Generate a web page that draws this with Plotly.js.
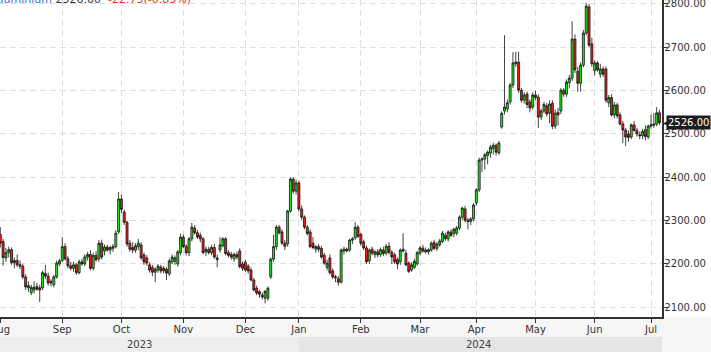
<!DOCTYPE html>
<html><head><meta charset="utf-8">
<script src="https://cdn.plot.ly/plotly-3.0.1.min.js"></script>
<style>html,body{margin:0;padding:0;background:#fff}#chart{width:711px;height:352px}</style>
</head><body><div id="chart"></div>
<script>
// Aluminium daily OHLC, trading days from 1 Aug 2023 to 3 Jul 2024
const opens = [
 2268,2252,2214,2226,2233,2203,2208,2198,2195,2170,2145,2134,2140,2148,2145,2145,2178,2172,2156,2152,2170,2200,
 2208,2240,2212,2196,2190,2198,2180,2205,2200,2216,2222,2190,2220,2212,2248,2230,2239,2232,2236,2240,2274,
 2350,2320,2296,2248,2238,2232,2240,2244,2221,2214,2198,2192,2181,2186,2193,2184,2188,2177,2205,2206,2200,2226,
 2262,2240,2226,2258,2283,2272,2266,2258,2228,2234,2226,2238,2210,2232,2242,2258,2226,2222,2212,2222,2230,2200,
 2204,2195,2186,2163,2144,2136,2128,2121,2121,2170,2211,2240,2285,2274,2248,2246,2322,2396,2368,
 2387,2327,2308,2285,2274,2248,2234,2240,2236,2220,2192,2214,2184,2168,2166,2158,2230,2234,2232,2255,2260,2285,
 2268,2251,2237,2207,2234,2222,2228,2222,2232,2225,2241,2227,2221,2210,2205,2234,2225,2202,2186,2192,2200,
 2225,2237,2232,2228,2232,2250,2236,2244,2252,2266,2258,2274,2270,2271,2283,2308,2327,2301,2298,2304,
 2341,2371,2440,2442,2450,2456,2466,2474,2456,2516,2553,2558,2574,2613,2662,2666,2601,2578,2592,2574,2562,
 2590,2585,2539,2553,2565,2548,2571,2518,2550,2553,2601,2592,2618,2629,2719,2645,2617,2659,2733,2793,2708,
 2646,2664,2638,2650,2650,2572,2584,2544,2567,2544,2523,2509,2500,2493,2521,2508,2498,2496,2510,2493,
 2518,2520,2523,2549
];
const highs = [
 2285,2258,2237,2240,2238,2215,2222,2208,2200,2176,2160,2152,2160,2156,2152,2185,2198,2180,2165,2175,2208,2212,
 2262,2248,2218,2205,2205,2202,2210,2212,2222,2228,2232,2226,2230,2255,2256,2245,2244,2242,2246,2278,2366,
 2360,2325,2300,2255,2250,2248,2258,2250,2226,2220,2204,2198,2192,2200,2198,2195,2192,2212,2222,2220,2232,2270,
 2268,2246,2262,2295,2290,2278,2272,2262,2240,2240,2244,2246,2222,2262,2262,2262,2232,2228,2226,2228,2236,2206,
 2210,2200,2192,2168,2150,2140,2134,2140,2148,2215,2267,2290,2290,2280,2255,2325,2400,2400,2395,
 2392,2335,2312,2290,2280,2262,2244,2246,2242,2226,2210,2222,2190,2175,2172,2236,2240,2238,2258,2262,2296,2290,
 2272,2256,2242,2236,2240,2232,2234,2238,2240,2246,2250,2232,2226,2215,2236,2271,2232,2206,2204,2212,2230,
 2242,2244,2238,2236,2252,2256,2250,2258,2276,2272,2278,2280,2284,2288,2312,2332,2334,2306,2308,2340,
 2375,2445,2446,2456,2462,2475,2480,2478,2484,2552,2728,2580,2618,2689,2690,2690,2606,2596,2598,2580,2596,
 2600,2592,2558,2574,2572,2578,2578,2556,2560,2606,2606,2626,2636,2760,2730,2655,2665,2740,2802,2800,2722,
 2670,2668,2662,2656,2656,2590,2592,2574,2572,2550,2530,2514,2508,2524,2530,2514,2506,2512,2520,2522,
 2545,2548,2562,2556
];
const lows = [
 2238,2196,2205,2215,2198,2190,2193,2188,2165,2140,2136,2128,2132,2138,2112,2140,2165,2150,2148,2146,2166,2195,
 2205,2208,2190,2185,2182,2175,2176,2196,2195,2208,2185,2185,2205,2205,2210,2220,2228,2222,2228,2236,2270,
 2318,2290,2240,2228,2225,2226,2232,2210,2198,2196,2180,2172,2158,2180,2178,2178,2163,2172,2200,2198,2194,2220,
 2236,2220,2218,2252,2268,2258,2250,2222,2218,2222,2220,2212,2192,2226,2238,2220,2215,2210,2205,2210,2190,2184,
 2182,2178,2160,2136,2128,2122,2118,2109,2115,2165,2205,2232,2268,2244,2232,2240,2318,2362,2360,
 2322,2302,2280,2266,2236,2234,2226,2228,2212,2198,2185,2175,2165,2158,2150,2155,2222,2226,2228,2246,2256,2260,
 2242,2232,2200,2200,2220,2214,2215,2216,2218,2220,2222,2200,2200,2188,2198,2226,2195,2179,2182,2188,2196,
 2220,2226,2224,2222,2228,2232,2230,2240,2248,2254,2252,2262,2262,2266,2278,2302,2296,2280,2290,2298,
 2335,2366,2412,2418,2430,2445,2452,2450,2452,2512,2545,2550,2568,2606,2655,2595,2572,2570,2560,2550,2556,
 2578,2514,2532,2548,2540,2525,2511,2512,2520,2546,2586,2586,2605,2622,2640,2597,2598,2654,2728,2700,2655,
 2635,2644,2630,2632,2572,2562,2540,2536,2536,2520,2479,2472,2482,2488,2505,2494,2488,2488,2485,2488,
 2512,2514,2518,2520
];
const closes = [
 2248,2215,2226,2233,2203,2208,2198,2195,2170,2147,2150,2146,2146,2142,2140,2180,2172,2156,2160,2170,2202,2207,
 2240,2212,2196,2190,2198,2180,2205,2200,2216,2222,2190,2220,2210,2248,2216,2239,2232,2238,2240,2271,2350,
 2326,2296,2246,2234,2232,2242,2248,2214,2205,2202,2186,2181,2188,2195,2184,2190,2179,2207,2216,2214,2228,2262,
 2240,2226,2258,2285,2272,2262,2258,2226,2234,2226,2238,2216,2214,2244,2258,2224,2220,2216,2222,2216,2194,2190,
 2186,2184,2163,2140,2133,2130,2124,2137,2144,2211,2240,2285,2272,2248,2241,2322,2396,2368,2387,
 2327,2308,2285,2270,2240,2238,2240,2234,2216,2202,2202,2180,2170,2170,2158,2232,2234,2230,2255,2258,2285,2264,
 2248,2237,2205,2232,2225,2228,2221,2233,2224,2241,2227,2216,2205,2200,2232,2230,2198,2183,2198,2206,2226,
 2237,2230,2228,2233,2248,2236,2246,2253,2271,2258,2274,2266,2280,2283,2308,2329,2301,2298,2304,2336,
 2371,2440,2442,2452,2458,2470,2474,2458,2479,2548,2562,2572,2613,2664,2666,2601,2578,2590,2568,2560,2590,
 2584,2539,2553,2568,2546,2569,2518,2548,2544,2601,2592,2620,2629,2719,2648,2617,2659,2733,2795,2705,2662,
 2664,2648,2650,2638,2578,2584,2544,2567,2542,2523,2509,2493,2492,2521,2508,2500,2496,2506,2494,2518,
 2521,2523,2548.75,2526
];
const monthTickIdx = [0, 22, 43, 65, 87, 106, 128, 149, 169, 190, 211, 231];
const monthLabels = ['Aug','Sep','Oct','Nov','Dec','Jan','Feb','Mar','Apr','May','Jun','Jul'];
const yearLabels = ['2023', '2024'];
const priceTicks = [2100, 2200, 2300, 2400, 2500, 2600, 2700, 2800];
const instrument = 'Aluminium';
const lastPrice = 2526.00;
const change = -22.75;
const changePct = -0.89;

const dayIdx = closes.map((_, i) => i);
const X0 = -0.1, XMAX = 234.9;
const PW = 662, PH = 317;          // plot area in px
const janPaper = (monthTickIdx[5] - X0) / (XMAX - X0);
const fontFam = 'DejaVu Sans, Verdana, sans-serif';

const trace = {
  type: 'candlestick', x: dayIdx, open: opens, high: highs, low: lows, close: closes,
  increasing: {line: {color: '#111', width: 0.8}, fillcolor: '#1af01a'},
  decreasing: {line: {color: '#111', width: 0.8}, fillcolor: '#ff1a1a'},
  whiskerwidth: 0, hoverinfo: 'skip', showlegend: false
};

const fmt = v => v.toFixed(2);
const layout = {
  width: 711, height: 352,
  margin: {l: 0, r: 49, t: 0, b: 35, pad: 0},
  paper_bgcolor: '#ffffff', plot_bgcolor: '#ffffff',
  font: {family: fontFam, size: 10, color: '#333'},
  boxgap: 0,
  showlegend: false,
  xaxis: {
    range: [X0, XMAX], tickmode: 'array', tickvals: monthTickIdx, ticktext: monthLabels,
    showgrid: true, gridcolor: '#dddddd', griddash: '6px,4px', gridwidth: 1,
    showline: true, linecolor: '#333', linewidth: 1.5, mirror: false,
    ticks: 'outside', ticklen: 4, tickcolor: '#333', tickwidth: 1,
    ticklabeloverflow: 'allow', ticklabelstandoff: -2,
    tickfont: {family: fontFam, size: 10, color: '#333'},
    rangeslider: {visible: false}, zeroline: false, fixedrange: true, automargin: false
  },
  yaxis: {
    side: 'right', range: [2077.6, 2809.2], tickmode: 'array', tickvals: priceTicks,
    ticktext: priceTicks.map(fmt),
    showgrid: true, gridcolor: '#dddddd', griddash: '6px,4px', gridwidth: 1,
    showline: true, linecolor: '#333', linewidth: 1.5,
    ticks: 'outside', ticklen: 4, tickcolor: '#333', tickwidth: 1,
    ticklabeloverflow: 'allow', ticklabelstandoff: -5,
    tickfont: {family: fontFam, size: 10, color: '#333'},
    zeroline: false, fixedrange: true, automargin: false
  },
  shapes: [
    {type: 'rect', xref: 'paper', yref: 'paper', x0: 0, x1: 711 / PW, y0: -35 / PH, y1: 0,
     fillcolor: '#f6f6f6', line: {width: 0}, layer: 'below'},
    {type: 'rect', xref: 'paper', yref: 'paper', x0: 0, x1: janPaper, y0: -35 / PH, y1: -20 / PH,
     fillcolor: '#eeeeee', line: {width: 0}, layer: 'below'},
    {type: 'rect', xref: 'paper', yref: 'paper', x0: janPaper, x1: 1, y0: -35 / PH, y1: -20 / PH,
     fillcolor: '#e5e5e5', line: {width: 0}, layer: 'below'}
  ],
  annotations: [
    {xref: 'paper', yref: 'paper', x: 0, y: 1, xanchor: 'left', yanchor: 'bottom', xshift: -9, yshift: -8,
     showarrow: false, font: {family: fontFam, size: 11, color: '#333'},
     text: '<span style="color:#3d6fd6">' + instrument + '</span> ' + fmt(lastPrice) +
           '  <span style="color:#e8351f">' + change.toFixed(2) + '(' + changePct.toFixed(2) + '%)</span>'},
    {xref: 'paper', yref: 'paper', x: 139 / PW, y: -27.5 / PH, xanchor: 'center', yanchor: 'middle',
     showarrow: false, text: yearLabels[0], font: {family: fontFam, size: 10, color: '#444'}},
    {xref: 'paper', yref: 'paper', x: 478 / PW, y: -27.5 / PH, xanchor: 'center', yanchor: 'middle',
     showarrow: false, text: yearLabels[1], font: {family: fontFam, size: 10, color: '#444'}},
    {xref: 'paper', yref: 'y', x: 1, y: lastPrice, xanchor: 'left', yanchor: 'middle', xshift: -1,
     showarrow: false, text: '◀', font: {family: fontFam, size: 10, color: '#1c1c1c'}},
    {xref: 'paper', yref: 'y', x: 1, y: lastPrice, xanchor: 'left', yanchor: 'middle', xshift: 4,
     showarrow: false, text: fmt(lastPrice), bgcolor: '#1c1c1c', borderpad: 1,
     font: {family: fontFam, size: 10, color: '#ffffff'}}
  ]
};

Plotly.newPlot('chart', [trace], layout, {staticPlot: true, displayModeBar: false});
</script>
</body></html>
